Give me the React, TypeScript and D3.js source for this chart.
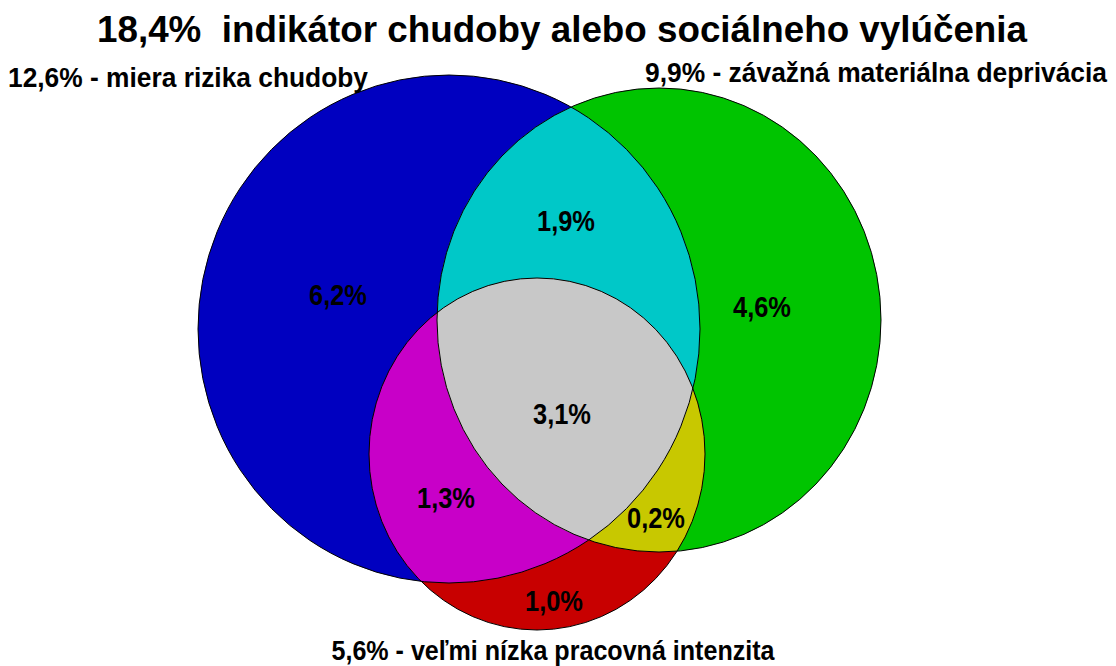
import React, { useEffect } from "react";
import * as d3 from "d3";

// chart values
const title = "18,4%  indikátor chudoby alebo sociálneho vylúčenia";
const setNames = ["miera rizika chudoby", "závažná materiálna deprivácia", "veľmi nízka pracovná intenzita"];
const setValues = [12.6, 9.9, 5.6];
// regions: which sets they belong to (0 = blue, 1 = green, 2 = red)
const regionSets = [[0], [1], [2], [0, 1], [0, 2], [1, 2], [0, 1, 2]];
const regionValues = [6.2, 4.6, 1.0, 1.9, 1.3, 0.2, 3.1];

const W = 1116;
const H = 666;

const fmt = d3.formatLocale({ decimal: ",", thousands: " ", grouping: [3], currency: ["", "€"] }).format(".1f");

// ellipse geometry per set (drawn Excel-style, slightly non circular)
const shapes = [
  { cx: 449, cy: 329, rx: 251, ry: 254 },
  { cx: 659, cy: 320, rx: 222, ry: 232 },
  { cx: 537, cy: 454, rx: 168, ry: 176 },
];
const regionColors = ["#0000c0", "#00c400", "#c80000", "#00c8c8", "#c800c8", "#c8c800", "#c8c8c8"];
// label anchor (center x, baseline y) for each region
const regionPos = [
  [338, 305], [762, 317], [554, 611], [566, 231], [446, 508], [656, 528], [562, 424],
];
const regionWidth = 58;

// set label placement: [x, baseline, anchor, width]
const setLabelPos: [number, number, string, number][] = [
  [8, 87, "start", 360],
  [1107, 82, "end", 462],
  [553, 660, "middle", 443],
];

const FONT = "'Liberation Sans', Arial, sans-serif";

function Ellipse({ i, ...rest }: any) {
  const s = shapes[i];
  return <ellipse cx={s.cx} cy={s.cy} rx={s.rx} ry={s.ry} {...rest} />;
}

export default function App() {
  useEffect(() => {
    document.body.style.margin = "0";
  }, []);

  // fill with the last set's shape, clipped by the other sets in the region
  const regionFill = (k: number) => {
    const sets = regionSets[k];
    let node: React.ReactNode = <Ellipse i={sets[sets.length - 1]} fill={regionColors[k]} />;
    sets.slice(0, -1).forEach((c) => {
      node = <g clipPath={`url(#clip${c})`}>{node}</g>;
    });
    return <g key={k}>{node}</g>;
  };

  return (
    <svg width={W} height={H} style={{ display: "block", background: "#fff" }}>
      <defs>
        {shapes.map((_, i) => (
          <clipPath id={`clip${i}`} key={i}>
            <Ellipse i={i} />
          </clipPath>
        ))}
      </defs>

      {regionSets.map((_, k) => regionFill(k))}

      {shapes.map((_, i) => (
        <Ellipse key={i} i={i} fill="none" stroke="#000" strokeWidth={1} />
      ))}

      <text x={562} y={42} textAnchor="middle" fontFamily={FONT} fontWeight="bold" fontSize={37}
        textLength={930} lengthAdjust="spacingAndGlyphs" style={{ whiteSpace: "pre" }}>
        {title}
      </text>

      {setNames.map((name, i) => {
        const [x, y, anchor, len] = setLabelPos[i];
        return (
          <text key={i} x={x} y={y} textAnchor={anchor} fontFamily={FONT} fontWeight="bold" fontSize={28}
            textLength={len} lengthAdjust="spacingAndGlyphs">
            {`${fmt(setValues[i])}% - ${name}`}
          </text>
        );
      })}

      {regionValues.map((v, k) => (
        <text key={k} x={regionPos[k][0]} y={regionPos[k][1]} textAnchor="middle" fontFamily={FONT}
          fontWeight="bold" fontSize={30} textLength={regionWidth} lengthAdjust="spacingAndGlyphs">
          {`${fmt(v)}%`}
        </text>
      ))}
    </svg>
  );
}
